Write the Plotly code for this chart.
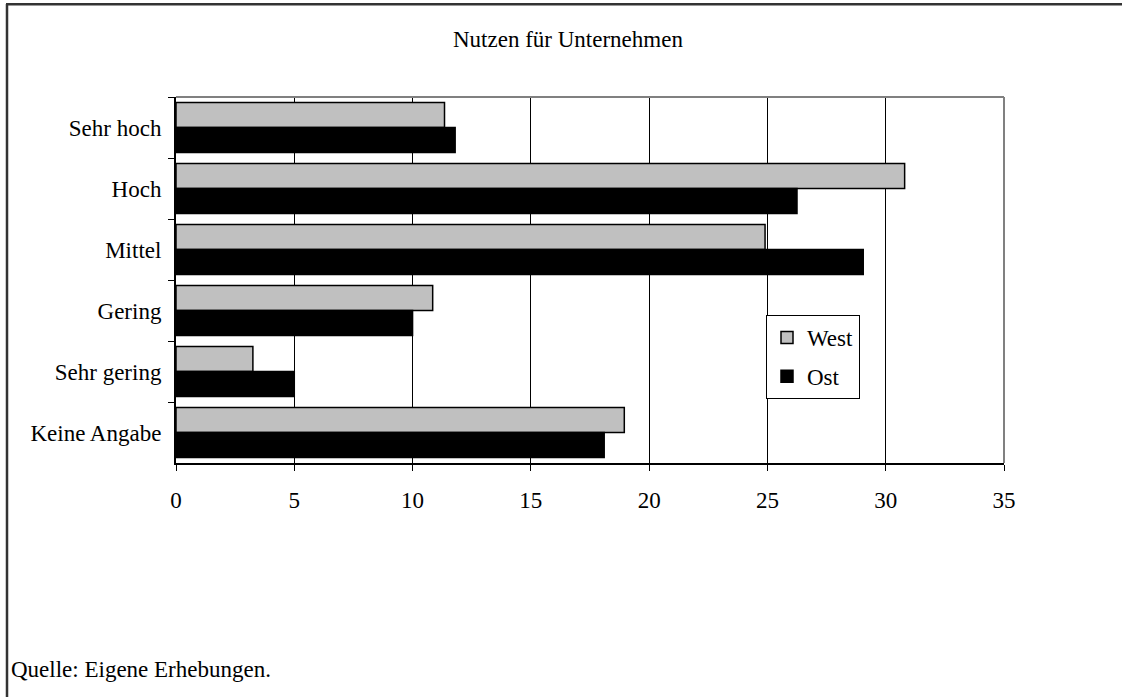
import plotly.graph_objects as go

# Kategorien und Anteile (in %)
categories = ["Sehr hoch", "Hoch", "Mittel", "Gering", "Sehr gering", "Keine Angabe"]
west = [11.35, 30.8, 24.9, 10.85, 3.25, 18.95]
ost = [11.8, 26.25, 29.05, 10.0, 5.0, 18.1]
x_ticks = [0, 5, 10, 15, 20, 25, 30, 35]

FONT = "Liberation Serif, Times New Roman, serif"
FS = 23

fig = go.Figure()
fig.add_trace(go.Bar(
    y=categories, x=west, name="West", orientation="h",
    marker=dict(color="#C0C0C0", line=dict(color="black", width=1.5)),
    legendgroup="w",
))
fig.add_trace(go.Bar(
    y=categories, x=ost, name="Ost", orientation="h",
    marker=dict(color="black", line=dict(color="black", width=1.5)),
    legendgroup="o",
))

W, H = 1122, 697
L, R, T, B = 176, 118, 97, 234
pw, ph = W - L - R, H - T - B

def px_x(px):
    return (px - L) / pw

def px_y(py):
    return (H - B - py) / ph

fig.update_layout(
    width=W, height=H,
    margin=dict(l=L, r=R, t=T, b=B, pad=0),
    paper_bgcolor="white", plot_bgcolor="white",
    font=dict(family=FONT, size=FS, color="black"),
    barmode="group", bargap=0.18, bargroupgap=0,
    showlegend=True,
    legend=dict(
        x=px_x(766), y=px_y(315), xanchor="left", yanchor="top",
        bgcolor="white", bordercolor="black", borderwidth=1,
        font=dict(family=FONT, size=FS, color="black"),
        tracegroupgap=6, itemwidth=30,
    ),
    xaxis=dict(
        range=[0, 35], tickvals=x_ticks, ticktext=[str(v) for v in x_ticks],
        showgrid=True, gridcolor="black", gridwidth=1,
        showline=True, linecolor="black", linewidth=2,
        ticks="outside", ticklen=6, tickcolor="black", tickwidth=1,
        ticklabelstandoff=9,
        zeroline=False, fixedrange=True,
    ),
    yaxis=dict(
        categoryorder="array", categoryarray=categories,
        autorange="reversed",
        showgrid=False, showline=True, linecolor="black", linewidth=2,
        ticks="outside", ticklen=6, tickcolor="black", tickwidth=1,
        tickson="boundaries", ticklabelstandoff=8, fixedrange=True,
    ),
    annotations=[
        dict(text="Nutzen für Unternehmen", xref="paper", yref="paper",
             x=px_x(568), y=px_y(40), xanchor="center", yanchor="middle",
             showarrow=False, font=dict(family=FONT, size=FS, color="black")),
        dict(text="Quelle: Eigene Erhebungen.", xref="paper", yref="paper",
             x=px_x(9), y=px_y(669), xanchor="left", yanchor="middle",
             showarrow=False, font=dict(family=FONT, size=FS, color="black")),
    ],
    shapes=[
        # Rahmen des Diagrammbereichs (oben und rechts, grau)
        dict(type="line", xref="paper", yref="paper", x0=0, x1=1, y0=1, y1=1,
             line=dict(color="#808080", width=2), layer="above"),
        dict(type="line", xref="paper", yref="paper", x0=1, x1=1, y0=0, y1=1,
             line=dict(color="#808080", width=2), layer="above"),
        # äußerer Rahmen: oben als gefüllter Streifen, links als Linie
        dict(type="rect", xref="paper", yref="paper",
             x0=px_x(6), x1=px_x(W), y0=px_y(3), y1=px_y(5.5),
             fillcolor="#333333", line=dict(width=0)),
        dict(type="line", xref="paper", yref="paper",
             x0=px_x(7), x1=px_x(7), y0=px_y(4), y1=px_y(H),
             line=dict(color="#333333", width=2.5)),
    ],
)

fig.write_html(
    "out.html",
    config={"displayModeBar": False},
    post_script="document.body.style.margin='0';document.body.style.overflow='hidden';",
)
